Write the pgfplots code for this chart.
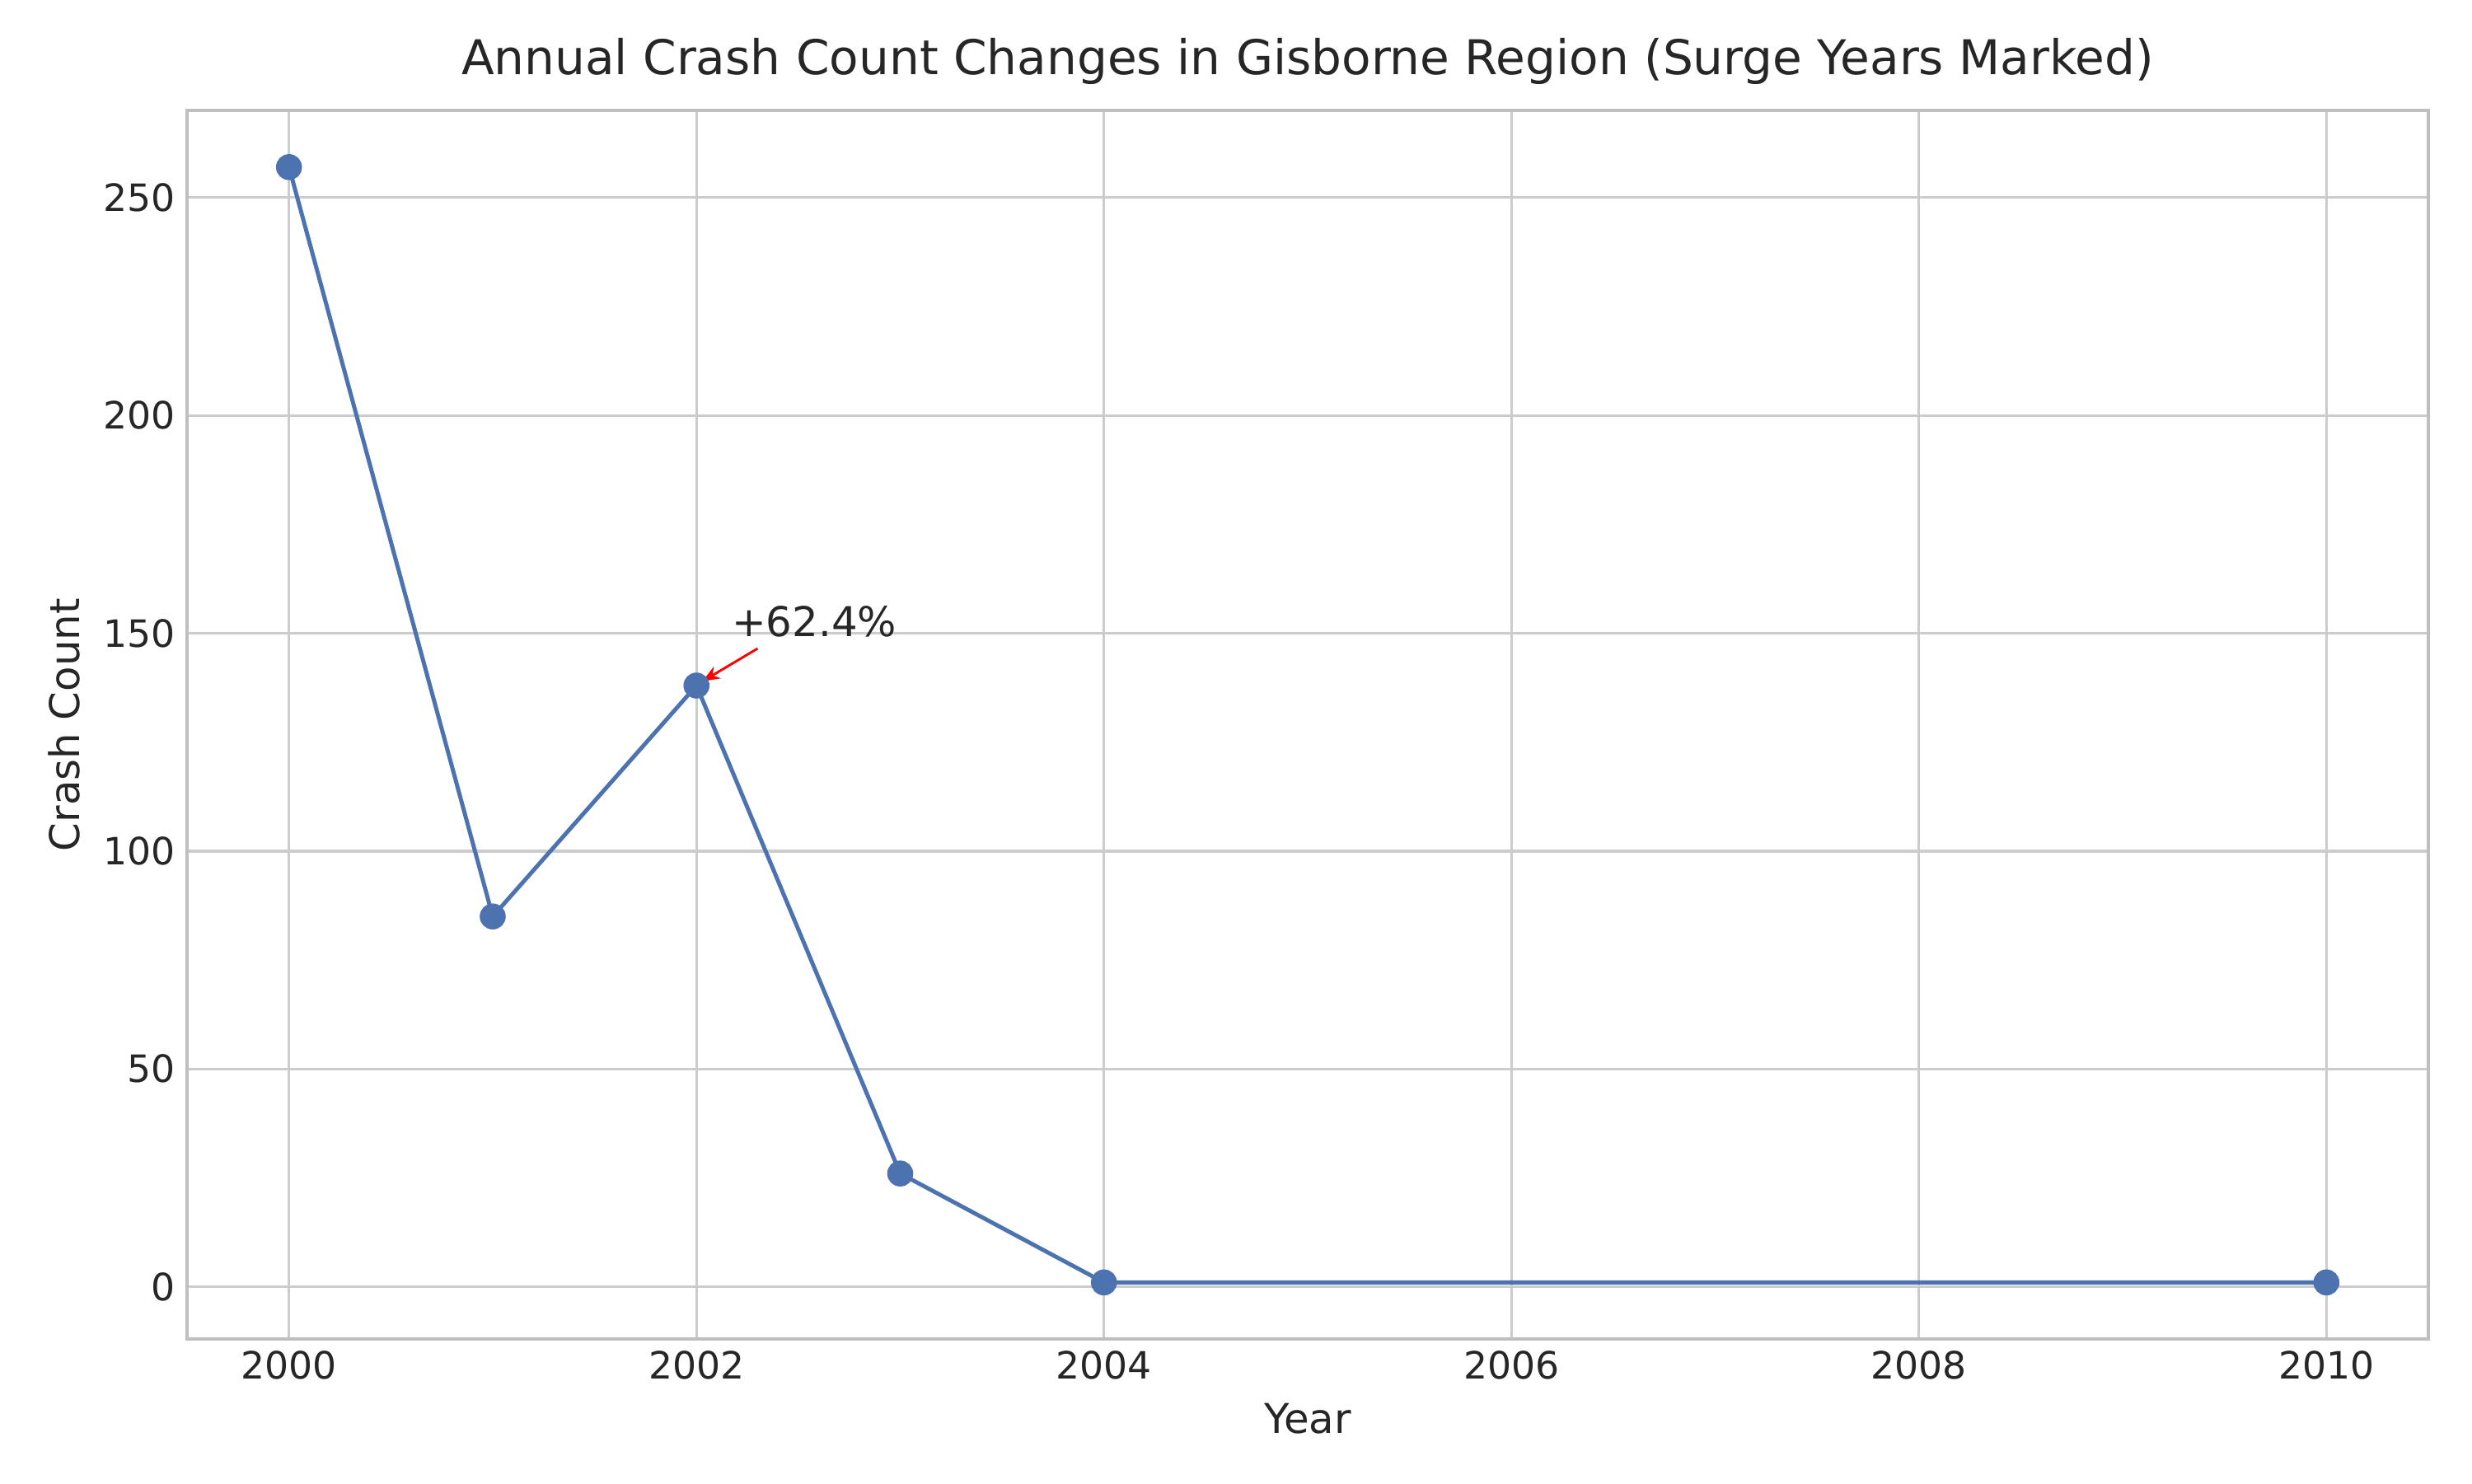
\documentclass[border=0pt]{standalone}
\usepackage{pgfplots}
\pgfplotsset{compat=1.18}
\usepackage{fontspec}
\setmainfont{DejaVu Sans}
\usetikzlibrary{arrows.meta}
\definecolor{sb}{HTML}{4C72B0}
\definecolor{txt}{HTML}{262626}
\begin{document}
\begin{tikzpicture}
\useasboundingbox (0,0) rectangle (10in,6in);
\begin{axis}[
  at={(0.757in,0.583in)}, anchor=south west,
  scale only axis, width=9.066in, height=4.97in,
  xmin=1999.5, xmax=2010.5, ymin=-12, ymax=270,
  xtick={2000,2002,...,2010}, ytick={0,50,...,250},
  /pgf/number format/1000 sep={},
  /pgf/number format/assume math mode=true,
  grid=major, major grid style={color=black!20, line width=0.8pt},
  axis line style={black!25, line width=0.8pt},
  tick style={draw=none},
  ticklabel style={font=\fontsize{11}{13}\selectfont, text=txt},
  xlabel={Year}, ylabel={Crash Count},
  label style={font=\fontsize{12}{14}\selectfont, text=txt},
  title={Annual Crash Count Changes in Gisborne Region (Surge Years Marked)},
  title style={font=\fontsize{14}{16}\selectfont, text=txt, yshift=-2pt},
]
\addplot[sb, line width=1.2pt, mark=*, mark size=3.2pt, mark options={fill=sb}]
  coordinates {(2000,257) (2001,85) (2002,138) (2003,26) (2004,1) (2010,1)};
\draw[-{Stealth[length=5pt,width=4pt]}, red, line width=0.7pt] (axis cs:2002.3,146.5) -- (axis cs:2002.03,139);
\node[anchor=south west, font=\fontsize{12}{14}\selectfont, text=txt, inner sep=0pt] at (axis cs:2002.17,149) {+62.4\%};
\end{axis}
\end{tikzpicture}
\end{document}
